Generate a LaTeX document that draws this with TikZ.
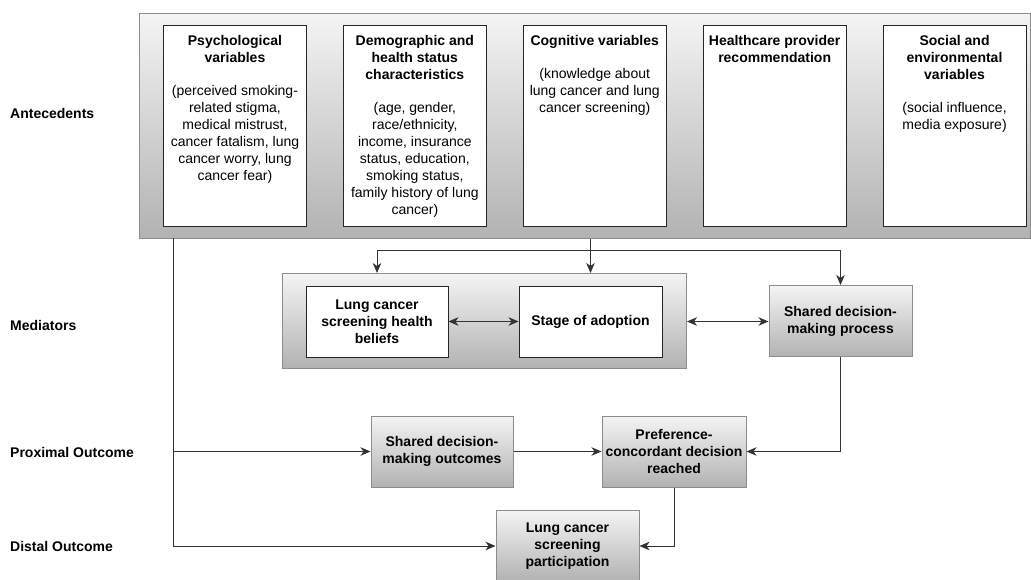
\documentclass[tikz,border=0pt]{standalone}
\usepackage{fontspec}
\setmainfont{Liberation Sans}
\usetikzlibrary{arrows.meta,positioning}

\definecolor{boxline}{HTML}{8C8C8C}
\definecolor{shadetop}{HTML}{F4F4F4}
\definecolor{shadebot}{HTML}{B2B2B2}
\definecolor{wireline}{HTML}{333333}

\begin{document}
\begin{tikzpicture}[x=1pt, y=-1pt, >={Stealth[length=10pt, width=8.5pt, inset=3pt]},
  every node/.style={font=\fontsize{14}{17}\selectfont},
  groupbox/.style={draw=boxline, line width=1pt, top color=shadetop, bottom color=shadebot, anchor=north west, inner sep=0pt},
  varbox/.style={draw=black!85, fill=white, line width=0.9pt, minimum width=143pt, minimum height=201pt, inner sep=0pt},
  vartext/.style={align=center, inner sep=0pt},
  innerbox/.style={draw=black!85, fill=white, line width=0.9pt, minimum width=142pt, minimum height=71pt, align=center, inner sep=0pt, font=\fontsize{14}{17}\selectfont\bfseries},
  stepbox/.style={draw=boxline, line width=1pt, top color=shadetop, bottom color=shadebot, minimum width=143pt, minimum height=71pt, align=center, inner sep=0pt, font=\fontsize{14}{17}\selectfont\bfseries},
  rowlabel/.style={anchor=west, inner sep=0pt, font=\fontsize{14}{17}\selectfont\bfseries},
  wire/.style={draw=wireline, line width=0.9pt}]
\clip (0,0) rectangle (1031,580);

% row labels
\node[rowlabel] (lante) at (10,113) {Antecedents};
\node[rowlabel] (lmed) at (10,325) {Mediators};
\node[rowlabel] (lprox) at (10,452) {Proximal Outcome};
\node[rowlabel] (ldist) at (10,546) {Distal Outcome};

% antecedents
\node[groupbox, minimum width=891pt, minimum height=225pt] (ante) at (139,13) {};
\node[varbox, anchor=north west] (psy) at (163,25) {};
\node[varbox, right=36pt of psy] (demo) {};
\node[varbox, right=36pt of demo] (cog) {};
\node[varbox, right=36pt of cog] (prov) {};
\node[varbox, right=36pt of prov] (soc) {};
\node[vartext, below=10pt of psy.north] (psyt) {\textbf{Psychological}\\\textbf{variables}\\[16pt]
  (perceived smoking-\\related stigma,\\medical mistrust,\\cancer fatalism, lung\\cancer worry, lung\\cancer fear)};
\node[vartext, below=10pt of demo.north] (demot) {\textbf{Demographic and}\\\textbf{health status}\\\textbf{characteristics}\\[16pt]
  (age, gender,\\race/ethnicity,\\income, insurance\\status, education,\\smoking status,\\family history of lung\\cancer)};
\node[vartext, below=10pt of cog.north] (cogt) {\textbf{Cognitive variables}\\[16pt]
  (knowledge about\\lung cancer and lung\\cancer screening)};
\node[vartext, below=10pt of prov.north] (provt) {\textbf{Healthcare provider}\\\textbf{recommendation}};
\node[vartext, below=10pt of soc.north] (soct) {\textbf{Social and}\\\textbf{environmental}\\\textbf{variables}\\[16pt]
  (social influence,\\media exposure)};

% mediators
\node[groupbox, minimum width=404pt, minimum height=95pt] (medgrp) at (282,273) {};
\node[innerbox] (beliefs) at (377,321.5) {Lung cancer\\screening health\\beliefs};
\node[innerbox, minimum width=143pt] (stage) at (590.5,321.5) {Stage of adoption};
\node[stepbox] (sdmproc) at (840.5,321) {Shared decision-\\making process};

% outcomes
\node[stepbox, minimum width=142pt] (sdmout) at (442,451.5) {Shared decision-\\making outcomes};
\node[stepbox, minimum width=144pt] (pref) at (674,451.5) {Preference-\\concordant decision\\reached};
\node[stepbox] (part) at (567.5,546) {Lung cancer\\screening\\participation};

% connectors
\coordinate (tap) at (173,238);
\coordinate (split) at (590.5,250);
\draw[wire] (stage |- ante.south) -- (split);
\draw[wire, ->] (split) -| (beliefs |- medgrp.north);
\draw[wire, ->] (split) -- (stage |- medgrp.north);
\draw[wire, ->] (split) -| (sdmproc.north);
\draw[wire, <->] (beliefs) -- (stage);
\draw[wire, <->] (medgrp.east |- stage) -- (sdmproc.west |- stage);
\draw[wire, ->] (tap) |- (part.west);
\draw[wire, ->] (tap |- sdmout.west) -- (sdmout.west);
\draw[wire, ->] (sdmout) -- (pref);
\draw[wire, ->] (sdmproc.south) |- (pref.east);
\draw[wire, ->] (pref.south) |- (part.east);
\end{tikzpicture}
\end{document}
